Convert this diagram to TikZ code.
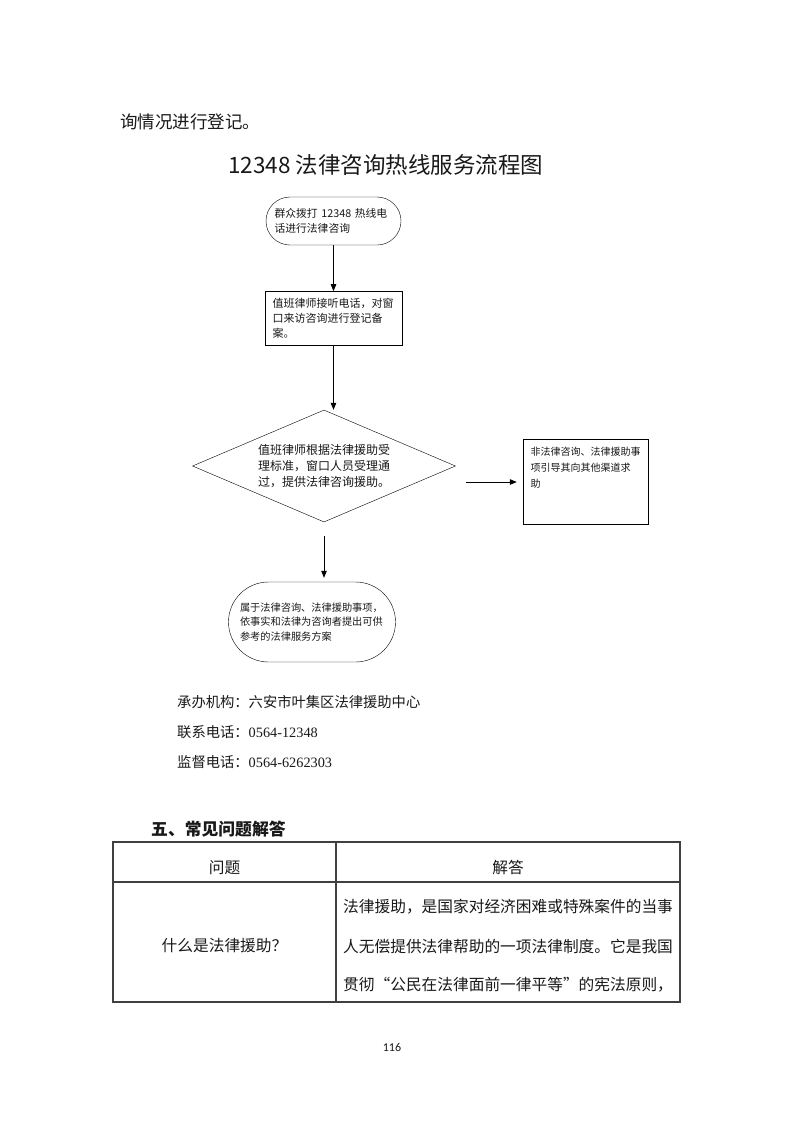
\documentclass[tikz,border=0pt]{standalone}
\usepackage{fontspec}
\setmainfont{Liberation Serif}
\newfontfamily\cjk{Noto Sans CJK SC}
\newfontfamily\pagefont{Carlito}
\usetikzlibrary{arrows.meta,positioning,shapes.geometric}

\newcommand\flowfont{\cjk\fontsize{11}{15}\selectfont}
\newcommand\bodyfont{\fontsize{17.5}{20}\selectfont}
\newcommand\infofont{\fontsize{14.3}{17}\selectfont}
\newcommand\cellfont{\fontsize{15.7}{18}\selectfont}

\begin{document}
\begin{tikzpicture}[
  x=1pt, y=-1pt,
  every node/.style={inner sep=0pt, text=black!90},
  line/.style={anchor=west},
  term/.style={draw, rounded corners=24pt, minimum width=135pt, minimum height=48pt,
               text width=118pt, align=left, font=\flowfont},
  proc/.style={draw, minimum width=137pt, minimum height=54pt,
               text width=122pt, align=left, font=\flowfont},
  dec/.style={draw, diamond, aspect=2.35, minimum width=263pt, minimum height=112pt,
              text width=132pt, align=left, font=\cjk\fontsize{12}{16}\selectfont},
  arr/.style={-{Triangle[length=7pt, width=5.5pt]}, line width=0.8pt},
  tbl/.style={draw=black!75, line width=1.2pt}
]
\fill[white] (0,0) rectangle (793,1122);
\useasboundingbox (0,0) rectangle (793,1122);

\node[line, font=\cjk\bodyfont] (prev) at (120,122) {询情况进行登记。};
\node[line, font=\cjk\fontsize{22.5}{26}\selectfont] (title) at (228,165) {12348 法律咨询热线服务流程图};

% flow chart
\node[term, font=\cjk\fontsize{10.8}{15}\selectfont] (start) at (333.5,221) {群众拨打 12348 热线电\\话进行法律咨询};
\node[proc, below=46pt of start] (reg) {值班律师接听电话，对窗\\口来访咨询进行登记备\\案。};
\node[dec] (check) at (324,466) {值班律师根据法律援助受\\理标准，窗口人员受理通\\过，提供法律咨询援助。};
\node[proc, minimum width=125pt, minimum height=85pt, text width=110pt, font=\cjk\fontsize{10}{16}\selectfont] (refer) at (585.5,482)
  {\parbox[t][69pt][t]{110pt}{非法律咨询、法律援助事\\项引导其向其他渠道求\\助}};
\node[term, rounded corners=40pt, minimum width=167pt, minimum height=80pt, text width=144pt,
      font=\cjk\fontsize{10.2}{14.5}\selectfont] (advice) at (312,622)
  {属于法律咨询、法律援助事项，\\依事实和法律为咨询者提出可供\\参考的法律服务方案};

\draw[arr] (start) -- (reg);
\draw[arr] (reg.south) -- (reg.south |- check.north);
\draw[arr, shorten <=10pt, shorten >=6pt] (check.east |- refer.west) -- (refer.west);
\draw[arr, shorten <=14pt, shorten >=4pt] (check.south) -- (check.south |- advice.north);

% contact lines
\node[line, font=\infofont] (org) at (177,702) {\cjk 承办机构：六安市叶集区法律援助中心};
\node[line, font=\infofont] (tel) at (177,732) {{\cjk 联系电话：}0564-12348};
\node[line, font=\infofont] (watch) at (177,762) {{\cjk 监督电话：}0564-6262303};

\node[line, font=\cjk\bfseries\fontsize{16.8}{20}\selectfont] (faq) at (151,829) {五、常见问题解答};

% table
\draw[tbl] (113,842) rectangle (680,1002);
\draw[tbl] (113,882) -- (680,882);
\draw[tbl] (336,842) -- (336,1002);
\node[font=\cjk\cellfont] (qhead) at (224.5,868) {问题};
\node[font=\cjk\cellfont] (ahead) at (508,868) {解答};
\node[font=\cjk\cellfont] (q1) at (224.5,946) {什么是法律援助？};
\node[line, font=\cjk\cellfont] (a1) at (343,907) {法律援助，是国家对经济困难或特殊案件的当事};
\node[line, font=\cjk\cellfont] (a2) at (343,946) {人无偿提供法律帮助的一项法律制度。它是我国};
\node[line, font=\cjk\cellfont] (a3) at (343,985) {贯彻\makebox[1em][r]{“}公民在法律面前一律平等\makebox[1em][l]{”}的宪法原则，};

\node[font=\pagefont\fontsize{12}{14}\selectfont] (pgno) at (392,1047) {116};
\end{tikzpicture}
\end{document}
